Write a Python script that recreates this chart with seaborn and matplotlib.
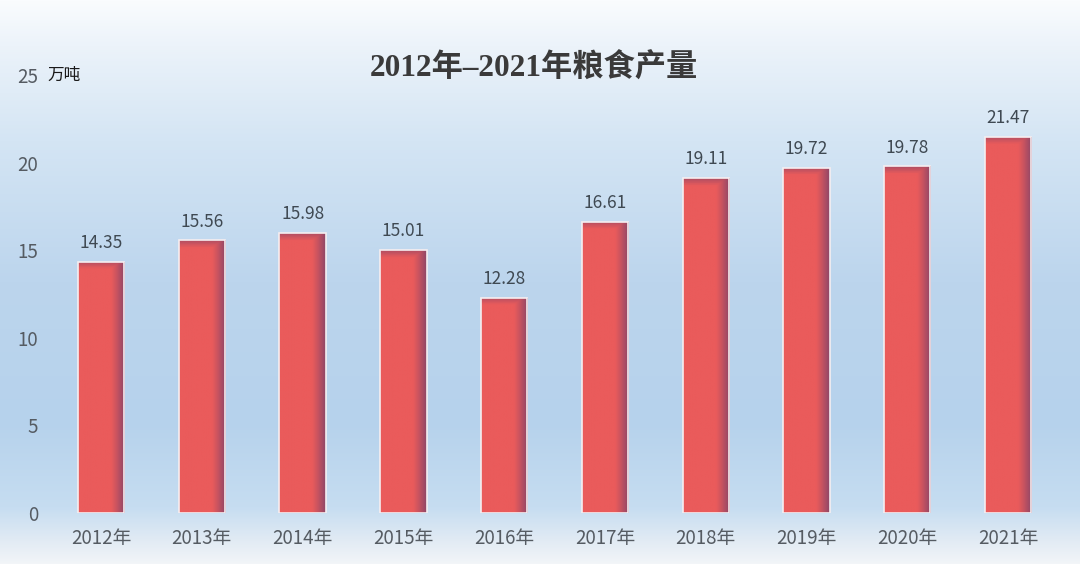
import numpy as np
import pandas as pd
import matplotlib
matplotlib.use("Agg")
import matplotlib.pyplot as plt
import seaborn as sns
from matplotlib.colors import to_rgb

years = ["2012年", "2013年", "2014年", "2015年", "2016年",
         "2017年", "2018年", "2019年", "2020年", "2021年"]
values = [14.35, 15.56, 15.98, 15.01, 12.28, 16.61, 19.11, 19.72, 19.78, 21.47]
value_labels = ["14.35", "15.56", "15.98", "15.01", "12.28",
                "16.61", "19.11", "19.72", "19.78", "21.47"]
yticks = [0, 5, 10, 15, 20, 25]
title = "2012年–2021年粮食产量"
unit = "万吨"

sns.set_theme(style="white")
plt.rcParams['font.family'] = ['Noto Sans CJK SC', 'DejaVu Sans']

df = pd.DataFrame({"year": years, "value": values})

fig = plt.figure(figsize=(10.8, 5.64), dpi=100)

# background gradient
bg = fig.add_axes([0, 0, 1, 1], zorder=-10)
bg.set_axis_off()
stops_y = [0.0, 0.08, 0.25, 0.5, 0.75, 0.9, 0.96, 1.0]
stops_c = [(250, 252, 254), (236, 243, 250), (212, 229, 244), (188, 213, 237),
           (182, 210, 236), (198, 221, 241), (226, 235, 244), (242, 245, 248)]
H = 564
yy = np.linspace(0, 1, H)
img = np.zeros((H, 2, 3))
for k in range(3):
    col = np.interp(yy, stops_y, [c[k] / 255 for c in stops_c])
    img[:, :, k] = col[:, None]
bg.imshow(img, aspect="auto", extent=[0, 1, 0, 1], origin="upper")
bg.set_xlim(0, 1)
bg.set_ylim(0, 1)

ax = fig.add_axes([0.0469, 0.0904, 0.9331, 0.7766])
ax.set_facecolor("none")
sns.barplot(data=df, x="year", y="value", ax=ax, color="#E85A5A",
            width=0.46, edgecolor="#f6eef0", linewidth=1.2, saturation=1)
ax.set_xlim(-0.5, 9.5)
ax.set_ylim(0, 25)

# gradient shading clipped to each bar
base = np.array(to_rgb("#EA5B5B"))
dark = np.array(to_rgb("#8E4668"))
nx, ny = 60, 200
gx = np.linspace(0, 1, nx)
wx = np.clip((gx - 0.7) / 0.3, 0, 1) ** 1.2
for p in list(ax.patches):
    x0, y0 = p.get_x(), p.get_y()
    w, h = p.get_width(), p.get_height()
    hpx = h * 17.52
    gyv = np.linspace(0, 1, ny)  # 0 top
    wy = np.clip(1 - gyv * hpx / 7, 0, 1) * 0.6
    wgt = np.maximum(wx[None, :], wy[:, None])
    g = base[None, None, :] * (1 - wgt[..., None]) + dark[None, None, :] * wgt[..., None]
    im = ax.imshow(g, extent=[x0, x0 + w, y0, y0 + h], origin="upper",
                   aspect="auto", zorder=p.get_zorder() + 0.1)
    im.set_clip_path(p)
    p.set_zorder(p.get_zorder() + 0.2)
    p.set_facecolor("none")
ax.set_xlim(-0.5, 9.5)
ax.set_ylim(0, 25)

for i, (v, lab) in enumerate(zip(values, value_labels)):
    ax.annotate(lab, (i, v), xytext=(0, 7), textcoords="offset points",
                ha="center", va="bottom", fontsize=12.5, color="#3f4952")

ax.set_yticks(yticks)
ax.set_yticklabels([str(t) for t in yticks], fontsize=13.5, color="#555b62")
ax.tick_params(axis="y", length=0, pad=9)
ax.tick_params(axis="x", length=0, pad=11, labelsize=13.5, labelcolor="#555b62")
for s in ax.spines.values():
    s.set_visible(False)
ax.set_xlabel("")
ax.set_ylabel("")
ax.grid(False)

fig.text(0.0444, 0.867, unit, fontsize=12, color="#1a1a1a", ha="left", va="center",
         fontweight="medium")
fig.text(0.494, 0.878, title, fontsize=22.5, fontweight="bold", color="#3a3a3a",
         ha="center", va="center", family=["Liberation Serif", "Noto Sans CJK SC"])

fig.savefig("out.png", dpi=100)
